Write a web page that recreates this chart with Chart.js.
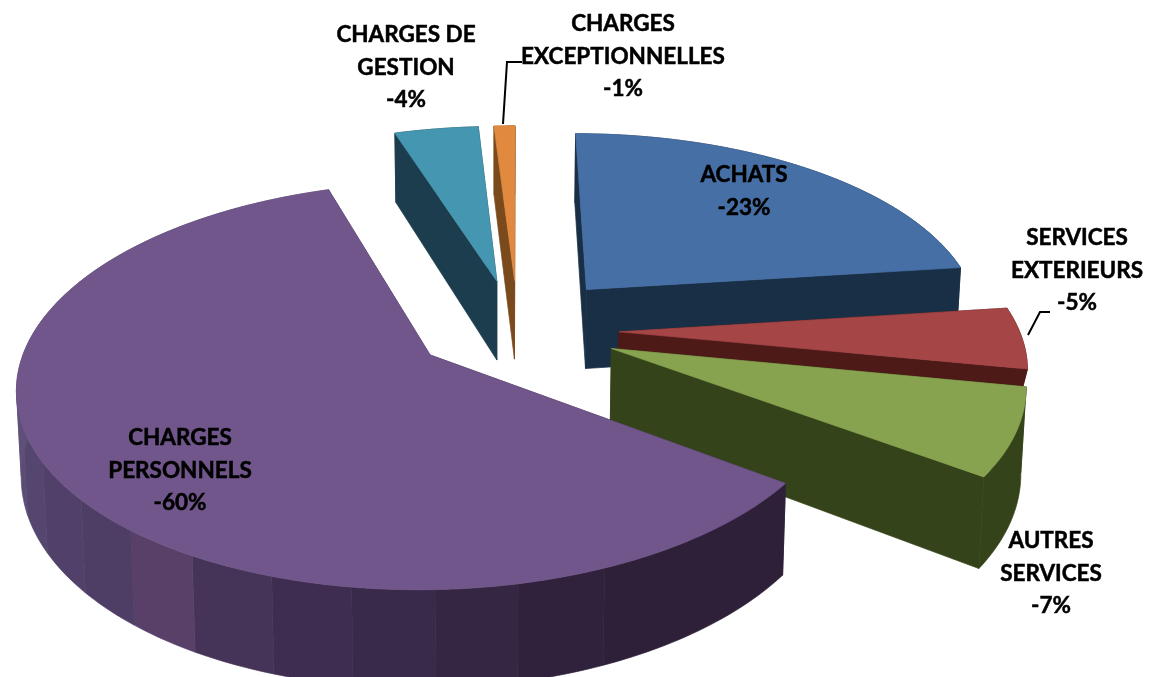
<!DOCTYPE html>
<html>
<head>
<meta charset="utf-8">
<title>Charges</title>
<style>
  html, body { margin: 0; padding: 0; background: #fff; }
  canvas { display: block; }
</style>
<script src="https://cdn.jsdelivr.net/npm/chart.js@4"></script>
</head>
<body>
<canvas id="chart" width="1156" height="677"></canvas>
<script>
// Data
const categories = [
  ['ACHATS'],
  ['SERVICES', 'EXTERIEURS'],
  ['AUTRES', 'SERVICES'],
  ['CHARGES', 'PERSONNELS'],
  ['CHARGES DE', 'GESTION'],
  ['CHARGES', 'EXCEPTIONNELLES']
];
const shares = [23, 5, 7, 60, 4, 1];
const percentLabels = ['-23%', '-5%', '-7%', '-60%', '-4%', '-1%'];

// Colours
const topColors = ['#466fa6', '#a54545', '#87a34f', '#70568a', '#4596b0', '#e0893f'];
const wallColors = ['#182f45', '#4d1a18', '#35431a', '#3f2c4e', '#1b3d4d', '#7a4a1c'];
const purpleWall = ['#2e2038', '#2e2038', '#2e2038', '#30223c', '#352644', '#3a2a4a', '#3e2d50', '#453358',
  '#584068', '#4e3e66', '#50406a', '#54466e', '#5a4c74', '#5f507a'];

// Explosion and the look of the tilted pie
const explode = [134, 120, 116, 80, 112, 112];
const nudgeX = [5, 3, 7, 0, 21, 22];
const nudgeY = [4, -2, -6, 0, 0, 0];
const wallDepth = [82, 20, 82, 82, 82, 82];
const paintOrder = [4, 5, 0, 1, 2, 3];
const view = { x: 496, y: 332, radius: 400, tilt: 0.48, persp: 0.15, narrow: 0.99 };

// Label placement, centre x and first line y
const labelPos = [[744, 175], [1077, 238], [1051, 541], [180, 438], [406, 35], [623, 24]];
const lineHeight = 32.5;
const leaders = [
  [[522, 62], [507, 62], [503, 124]],
  [[1050, 312], [1040, 312], [1028, 335]]
];

function project(u, v) {
  const s = 1 / (1 - view.persp * v);
  return {
    x: view.x + view.radius * u * s,
    y: view.y + view.radius * view.tilt * v * s,
    s: s
  };
}

function drop(p, depth) {
  return {
    x: view.x + (p.x - view.x) * view.narrow,
    y: p.y + depth * p.s
  };
}

function fillPoly(ctx, pts, color) {
  ctx.fillStyle = color;
  ctx.strokeStyle = color;
  ctx.lineWidth = 0.7;
  ctx.beginPath();
  pts.forEach((p, i) => i ? ctx.lineTo(p.x, p.y) : ctx.moveTo(p.x, p.y));
  ctx.closePath();
  ctx.fill();
  ctx.stroke();
}

function bandColor(a) {
  const deg = (a * 180 / Math.PI + 360) % 360;
  const t = Math.min(1, Math.max(0, (deg - 36) / 144));
  return purpleWall[Math.min(purpleWall.length - 1, Math.floor(t * purpleWall.length))];
}

function drawSlice(ctx, arc, i) {
  const mid = (arc.startAngle + arc.endAngle) / 2;
  const off = arc.options.offset / view.radius;
  const ou = Math.cos(mid) * off;
  const ov = Math.sin(mid) * off;
  const depth = wallDepth[i];

  const apex = project(ou, ov);
  const rim = [];
  const steps = Math.max(2, Math.round((arc.endAngle - arc.startAngle) * 180 / Math.PI));
  for (let n = 0; n <= steps; n++) {
    const a = arc.startAngle + (arc.endAngle - arc.startAngle) * n / steps;
    const p = project(ou + Math.cos(a), ov + Math.sin(a));
    p.a = a;
    rim.push(p);
  }
  [apex].concat(rim).forEach(p => { p.x += nudgeX[i]; p.y += nudgeY[i]; });

  // radial walls
  const first = rim[0];
  const last = rim[rim.length - 1];
  fillPoly(ctx, [apex, first, drop(first, depth), drop(apex, depth)], wallColors[i]);
  fillPoly(ctx, [apex, last, drop(last, depth), drop(apex, depth)], wallColors[i]);

  // outer wall, one polygon per colour band
  let run = [rim[0]];
  const colorAt = p => i === 3 ? bandColor(p.a) : wallColors[i];
  for (let n = 1; n < rim.length; n++) {
    run.push(rim[n]);
    if (n === rim.length - 1 || colorAt(rim[n]) !== colorAt(run[0])) {
      fillPoly(ctx, run.concat(run.map(p => drop(p, depth)).reverse()), colorAt(run[0]));
      run = [rim[n]];
    }
  }

  fillPoly(ctx, [apex].concat(rim), topColors[i]);
}

const pie3d = {
  id: 'pie3d',
  beforeDatasetDraw(chart) {
    const ctx = chart.ctx;
    const arcs = chart.getDatasetMeta(0).data;
    paintOrder.forEach(i => drawSlice(ctx, arcs[i], i));
    return false;
  },
  afterDraw(chart) {
    const ctx = chart.ctx;
    ctx.save();
    ctx.strokeStyle = '#000';
    ctx.lineWidth = 2;
    leaders.forEach(line => {
      ctx.beginPath();
      line.forEach((p, i) => i ? ctx.lineTo(p[0], p[1]) : ctx.moveTo(p[0], p[1]));
      ctx.stroke();
    });
    ctx.fillStyle = '#000';
    ctx.lineWidth = 0.5;
    ctx.font = 'bold 22.5px Lato';
    ctx.textAlign = 'center';
    ctx.textBaseline = 'middle';
    chart.data.labels.forEach((lines, i) => {
      lines.concat(percentLabels[i]).forEach((text, n) => {
        ctx.fillText(text, labelPos[i][0], labelPos[i][1] + n * lineHeight);
        ctx.strokeText(text, labelPos[i][0], labelPos[i][1] + n * lineHeight);
      });
    });
    ctx.restore();
  }
};

new Chart(document.getElementById('chart'), {
  type: 'pie',
  data: {
    labels: categories,
    datasets: [{
      data: shares,
      backgroundColor: topColors,
      borderWidth: 0,
      offset: explode
    }]
  },
  options: {
    responsive: false,
    animation: false,
    plugins: {
      legend: { display: false },
      tooltip: { enabled: false }
    }
  },
  plugins: [pie3d]
});
</script>
</body>
</html>
